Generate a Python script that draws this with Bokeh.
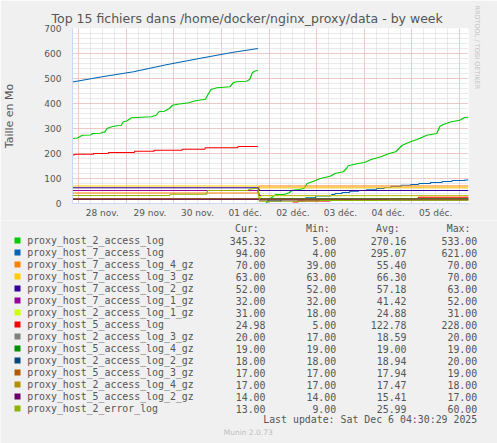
from bokeh.plotting import figure
from bokeh.models import Range1d, FixedTicker, Title
from bokeh.core.properties import value
from bokeh.embed import file_html
from bokeh.resources import INLINE

NAN = float("nan")

# ---------------- data (x = days since 28 nov 00:00, y = Mo) ----------------
title_text = "Top 15 fichiers dans /home/docker/nginx_proxy/data - by week"
y_label = "Taille en Mo"
day_ticks = [0.5, 1.5, 2.5, 3.5, 4.5, 5.5, 6.5, 7.5]
day_labels = ["28 nov.", "29 nov.", "30 nov.", "01 déc.", "02 déc.", "03 déc.", "04 déc.", "05 déc."]
y_ticks = [0, 100, 200, 300, 400, 500, 600, 700]

series_names = [
    "proxy_host_2_access_log", "proxy_host_7_access_log", "proxy_host_7_access_log_4_gz",
    "proxy_host_7_access_log_3_gz", "proxy_host_7_access_log_2_gz", "proxy_host_7_access_log_1_gz",
    "proxy_host_2_access_log_1_gz", "proxy_host_5_access_log", "proxy_host_2_access_log_3_gz",
    "proxy_host_5_access_log_4_gz", "proxy_host_2_access_log_2_gz", "proxy_host_5_access_log_3_gz",
    "proxy_host_2_access_log_4_gz", "proxy_host_5_access_log_2_gz", "proxy_host_2_error_log",
]
series_colors = [
    "#00CC00", "#0066B3", "#FF8000", "#FFCC00", "#330099", "#990099", "#CCFF00", "#FF0000",
    "#808080", "#008F00", "#00487D", "#B35A00", "#B38F00", "#6B006B", "#8FB300",
]
cur_vals = [345.32, 94.00, 70.00, 63.00, 52.00, 32.00, 31.00, 24.98, 20.00, 19.00, 18.00, 17.00, 17.00, 14.00, 13.00]
min_vals = [5.00, 4.00, 39.00, 63.00, 52.00, 32.00, 18.00, 5.00, 17.00, 19.00, 18.00, 17.00, 17.00, 14.00, 9.00]
avg_vals = [270.16, 295.07, 55.40, 66.30, 57.18, 41.42, 24.88, 122.78, 18.59, 19.00, 18.94, 17.94, 17.47, 15.41, 25.99]
max_vals = [533.00, 621.00, 70.00, 70.00, 63.00, 52.00, 31.00, 228.00, 20.00, 19.00, 20.00, 19.00, 18.00, 17.00, 60.00]
col_headers = ["Cur:", "Min:", "Avg:", "Max:"]
last_update = "Last update: Sat Dec  6 04:30:29 2025"
munin_version = "Munin 2.0.73"
watermark = "RRDTOOL / TOBI OETIKER"

t_start, t_end = -0.125, 8.1875

h2_access_x = [-0.125, -0.021, 0.082, 0.254, 0.302, 0.461, 0.509, 0.550, 0.599, 0.702, 0.805, 0.895,
               0.943, 1.012, 1.115, 1.528, 1.632, 1.687, 1.804, 1.907, 1.976, 2.079, 2.320, 2.458,
               2.665, 2.720, 2.782, 2.906, 3.181, 3.250, 3.319, 3.526, 3.594, 3.650, 3.698, 3.767, NAN,
               3.939, 4.008, 4.090, 4.145, 4.318, 4.421, 4.490, 4.627, 4.731, 4.800, 4.937, 5.075,
               5.282, 5.385, 5.557, 5.626, 5.661, 5.867, 6.005, 6.143, 6.349, 6.521, 6.659, 6.728,
               6.797, 6.969, 7.107, 7.313, 7.520, 7.589, 7.658, 7.830, 8.002, 8.105, 8.188]
h2_access_y = [260, 262, 273, 274, 280, 281, 285, 285, 300, 307, 311, 312,
               327, 330, 343, 347, 353, 367, 369, 380, 393, 397, 403, 411,
               417, 436, 456, 463, 467, 483, 487, 489, 496, 523, 529, 533, NAN,
               3, 16, 29, 36, 36, 43, 53, 56, 60, 80, 89, 100,
               109, 120, 127, 140, 151, 160, 164, 176, 187, 200, 207, 220,
               233, 247, 256, 273, 280, 309, 316, 327, 333, 344, 345]

h7_access_x = [-0.125, 0.467, 1.157, 1.845, 2.533, 3.223, 3.767, NAN,
               3.973, 3.99, 4.248, 4.26, 4.490, 4.50, 4.764, 4.78, 4.971, 4.99, 5.30, 5.316, 5.378,
               5.39, 5.523, 5.54, 5.688, 5.70, 5.874, 5.89, 6.039, 6.05, 6.246, 6.26, 6.411, 6.42,
               6.556, 6.57, 6.762, 6.78, 6.969, 6.98, 7.134, 7.15, 7.382, 7.40, 7.630, 7.64, 7.837,
               7.85, 8.105, 8.12, 8.188]
h7_access_y = [486, 506, 527, 555, 580, 604, 620, NAN,
               4, 10, 10, 16, 16, 20, 20, 23, 23, 30, 30, 36, 36,
               40, 40, 44, 44, 49, 49, 52, 52, 55, 55, 60, 60, 64,
               64, 69, 69, 73, 73, 76, 76, 80, 80, 84, 84, 88, 88,
               92, 92, 94, 94]

h7_gz4_x = [-0.125, 3.767, 3.80, 8.188]
h7_gz4_y = [42, 42, 70, 70]
h7_gz3_x = [-0.125, 3.767, 3.80, 8.188]
h7_gz3_y = [70, 70, 63, 63]
h7_gz2_x = [-0.125, 3.767, 3.80, 8.188]
h7_gz2_y = [63, 63, 52, 52]
h7_gz1_x = [-0.125, 3.767, 3.80, 8.188]
h7_gz1_y = [52, 52, 32, 32]
h2_gz1_x = [-0.125, 3.767, 3.85, 8.188]
h2_gz1_y = [18, 18, 31, 31]

h5_access_x = [-0.125, -0.056, 0.31, 0.323, 0.62, 0.633, 1.17, 1.184, 1.58, 1.597, 2.17, 2.182,
               2.65, 2.665, 3.34, 3.353, 3.767, NAN,
               4.50, 4.60, 4.62, 4.72, 4.74, 5.06, 5.08, 5.28, 5.30, 7.12, 7.14, 8.188]
h5_access_y = [193, 197, 197, 200, 200, 204, 204, 209, 209, 213, 213, 217,
               217, 223, 223, 228, 228, NAN,
               6, 6, 10, 10, 10, 10, 10, 10, 16, 16, 25, 25]

h2_gz3_x = [-0.125, 3.767, 3.80, 8.188]
h2_gz3_y = [17, 17, 20, 20]
h5_gz4_x = [-0.125, 8.188]
h5_gz4_y = [19, 19]
h2_gz2_x = [-0.125, 3.767, 3.80, 8.188]
h2_gz2_y = [20, 20, 18, 18]
h5_gz3_x = [-0.125, 3.767, 3.80, 8.188]
h5_gz3_y = [19, 19, 17, 17]
h2_gz4_x = [-0.125, 3.767, 3.80, 8.188]
h2_gz4_y = [18, 18, 17, 17]
h5_gz2_x = [-0.125, 3.767, 3.80, 8.188]
h5_gz2_y = [17, 17, 14, 14]
h2_err_x = [-0.125, 1.91, 1.93, 2.69, 2.71, 3.56, 3.58, 3.70, 3.767, 3.80, 4.72, 4.74, 5.06, 5.08,
            6.50, 6.52, 8.188]
h2_err_y = [32, 32, 37, 37, 52, 52, 57, 60, 60, 9, 9, 10, 10, 12, 12, 13, 13]

series_x = [h2_access_x, h7_access_x, h7_gz4_x, h7_gz3_x, h7_gz2_x, h7_gz1_x, h2_gz1_x, h5_access_x,
            h2_gz3_x, h5_gz4_x, h2_gz2_x, h5_gz3_x, h2_gz4_x, h5_gz2_x, h2_err_x]
series_y = [h2_access_y, h7_access_y, h7_gz4_y, h7_gz3_y, h7_gz2_y, h7_gz1_y, h2_gz1_y, h5_access_y,
            h2_gz3_y, h5_gz4_y, h2_gz2_y, h5_gz3_y, h2_gz4_y, h5_gz2_y, h2_err_y]

# ---------------- styles ----------------
BG = "#F0F0F0"
FONT_C = "#555555"
AXIS_C = "#CFD6F8"
MGRID_C = "#F2A8A8"
GRID_C = "#D4D4D4"

# ---------------- main plot ----------------
p = figure(width=497, height=220, x_range=Range1d(t_start, t_end), y_range=Range1d(0, 700),
           output_backend="svg", toolbar_location=None, title=None,
           min_border_left=67, min_border_right=29, min_border_top=28, min_border_bottom=17)
p.background_fill_color = "white"
p.border_fill_color = BG
p.outline_line_color = None

p.add_layout(Title(text=title_text, align="left", offset=-21, vertical_align="bottom", standoff=6,
                   text_font="DejaVu Sans", text_font_size="12.5px", text_font_style="normal",
                   text_color=FONT_C), "above")
p.add_layout(Title(text=watermark, align="left", vertical_align="top", offset=-23, standoff=4,
                   text_font="DejaVu Sans", text_font_size="6.5px", text_font_style="normal",
                   text_color="#C4C4C4"), "right")

p.xaxis.ticker = FixedTicker(ticks=day_ticks)
p.xaxis.major_label_overrides = dict(zip(day_ticks, day_labels))
p.yaxis.ticker = FixedTicker(ticks=y_ticks, minor_ticks=list(range(0, 701, 20)))
for ax in (p.xaxis, p.yaxis):
    ax.axis_line_color = AXIS_C
    ax.major_tick_line_color = None
    ax.minor_tick_line_color = None
    ax.major_tick_out = 0
    ax.major_tick_in = 0
    ax.major_label_text_font = "DejaVu Sans"
    ax.major_label_text_font_size = "9px"
    ax.major_label_text_color = FONT_C
p.yaxis.major_label_standoff = 7
p.xaxis.major_label_standoff = 4
p.yaxis.axis_label = y_label
p.yaxis.axis_label_standoff = 25
p.yaxis.axis_label_text_font = "DejaVu Sans"
p.yaxis.axis_label_text_font_size = "11px"
p.yaxis.axis_label_text_font_style = "normal"
p.yaxis.axis_label_text_color = FONT_C

p.xgrid.ticker = FixedTicker(ticks=list(range(0, 9)), minor_ticks=[k / 4 for k in range(0, 33)])
for g in (p.xgrid, p.ygrid):
    g.grid_line_color = MGRID_C
    g.grid_line_dash = "1 1"
    g.minor_grid_line_color = GRID_C
    g.minor_grid_line_dash = "1 1"

for xs, ys, col in zip(series_x, series_y, series_colors):
    p.line(xs, ys, line_color=col, line_width=1.2)

# ---------------- legend table (coordinates = page pixels) ----------------
q = figure(width=497, height=223, x_range=Range1d(0, 497), y_range=Range1d(443, 220),
           output_backend="svg", toolbar_location=None, title=None,
           x_axis_type=None, y_axis_type=None, min_border=0)
q.background_fill_color = BG
q.border_fill_color = BG
q.outline_line_color = None

rows = [240 + 12 * i for i in range(len(series_names))]
mono = value("DejaVu Sans Mono")
q.scatter([17] * len(rows), rows, marker="square", size=6, fill_color=series_colors, line_color=None)
q.text([26.7] * len(rows), rows, text=series_names, text_font=mono, text_font_size=value("9.9px"),
       text_color=FONT_C, text_baseline="middle", text_align="left")
for xr, vals in zip([265, 335.7, 406, 476.7], [cur_vals, min_vals, avg_vals, max_vals]):
    q.text([xr] * len(rows), rows, text=["%.2f" % v for v in vals], text_font=mono,
           text_font_size=value("9.9px"), text_color=FONT_C, text_baseline="middle", text_align="right")
q.text([258.3, 329.3, 399.3, 470], [228.3] * 4, text=col_headers, text_font=mono,
       text_font_size=value("9.9px"), text_color=FONT_C, text_baseline="middle", text_align="right")
q.text([482.7], [419.3], text=[last_update], text_font=mono, text_font_size=value("9.9px"),
       text_color=FONT_C, text_baseline="middle", text_align="right")
q.text([247.7], [431.7], text=[munin_version], text_font=value("DejaVu Sans"),
       text_font_size=value("7.5px"), text_color="#BDBDBD", text_baseline="middle", text_align="center")

open("out.html", "w").write(file_html([p, q], INLINE))
